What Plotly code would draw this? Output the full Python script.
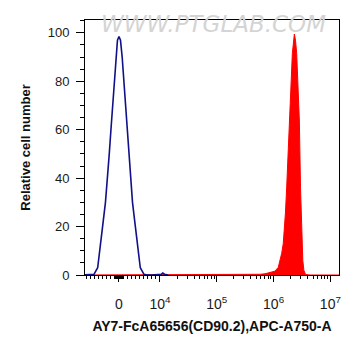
import numpy as np
import plotly.graph_objects as go

# ---- data (fluorescence intensity, relative cell number) ----
blue_x = [-9000, -7000, -6100, -5200, -4650, -4000, -3300, -2800, -2370, -1960,
          -1190, -780, -370, 0, 370, 780, 1190, 1960, 2370, 2800,
          3300, 4000, 4650, 5200, 6100, 7000, 8000, 9000, 10000, 10500,
          11200, 12000, 14000]
blue_y = [0, 0, 0.3, 3, 10, 20, 30, 39, 50, 60,
          80, 90, 97, 98.5, 97, 90, 80, 60, 50, 39,
          30, 20, 10, 3, 0.3, 0, 0, 0, 0, 0.3,
          0.8, 0.3, 0]

red_x = [-9000, 1e4, 1e5, 3.85e5, 5.77e5, 7.06e5, 9.27e5, 1.06e6, 1.21e6, 1.30e6,
         1.39e6, 1.48e6, 1.55e6, 1.62e6, 1.70e6, 1.79e6, 1.89e6, 2.01e6, 2.14e6, 2.32e6,
         2.43e6, 2.55e6, 2.69e6, 2.84e6, 2.98e6, 3.14e6, 3.27e6, 3.41e6, 3.65e6, 4.4e6, 1.5e7]
red_y = [0, 0, 0, 0.1, 0.3, 0.5, 1.2, 1.6, 3.2, 6,
         9, 13, 18, 26, 36, 50, 64, 78, 91.5, 99.5,
         97, 91.5, 78, 64, 36, 15, 6, 2, 0.2, 0, 0]

x_major_vals = [0, 1e4, 1e5, 1e6, 1e7]
x_major_text = ["0", "10<sup>4</sup>", "10<sup>5</sup>", "10<sup>6</sup>", "10<sup>7</sup>"]
y_major_vals = [0, 20, 40, 60, 80, 100]

x_title = "AY7-FcA65656(CD90.2),APC-A750-A"
y_title = "Relative cell number"
watermark = "WWW.PTGLAB.COM"

# ---- biexponential-like display transform (linear near 0, log above 1e4) ----
LIN_DECADES = 0.7215


def biex(v):
    v = np.asarray(v, dtype=float)
    return np.where(v < 1e4, v / 1e4 * LIN_DECADES,
                    np.log10(np.maximum(v, 1e4)) - 4 + LIN_DECADES)


minor_raw = [s * k for s in (-1, 1) for k in list(range(100, 1000, 100)) + list(range(1000, 10000, 1000))]
minor_raw += [k * 10 ** e for e in (4, 5, 6) for k in range(2, 10)]
minor_vals = sorted(biex(minor_raw).tolist())

font_family = "Liberation Sans, Arial, sans-serif"

fig = go.Figure()
fig.add_trace(go.Scatter(
    x=biex(red_x), y=red_y, mode="lines", fill="tozeroy",
    line=dict(color="#ff0000", width=1), fillcolor="#ff0000",
    hoverinfo="skip", showlegend=False))
fig.add_trace(go.Scatter(
    x=biex(blue_x), y=blue_y, mode="lines",
    line=dict(color="#10108a", width=1.6),
    hoverinfo="skip", showlegend=False))

# page body has an 8px default margin, so the figure is sized to fit inside
fig.update_layout(
    width=353, height=348,
    margin=dict(l=77, r=22, t=12, b=81),
    paper_bgcolor="white", plot_bgcolor="white",
    font=dict(family=font_family, color="#1a1a1a", size=13),
    showlegend=False,
)

fig.update_xaxes(
    range=[-0.598, 3.873], automargin=False, layer="above traces",
    tickmode="array", tickvals=biex(x_major_vals).tolist(), ticktext=x_major_text,
    ticks="outside", ticklen=6, tickwidth=1.2, tickcolor="black",
    minor=dict(tickmode="array", tickvals=minor_vals, ticks="outside",
               ticklen=3, tickwidth=1, tickcolor="black", showgrid=False),
    showline=True, linecolor="black", linewidth=1.2, mirror=True,
    showgrid=False, zeroline=False,
    tickfont=dict(size=14, color="#1a1a1a"),
    ticklabelstandoff=10,
    title=dict(text="<b>" + x_title + "</b>", font=dict(size=14, color="#111111"), standoff=10),
)

fig.update_yaxes(
    range=[0, 105.3], automargin=False, layer="above traces",
    tickmode="array", tickvals=y_major_vals,
    ticks="outside", ticklen=8, tickwidth=1.2, tickcolor="black",
    minor=dict(tickmode="linear", tick0=0, dtick=5, ticks="outside",
               ticklen=4, tickwidth=1, tickcolor="black", showgrid=False),
    showline=True, linecolor="black", linewidth=1, mirror=True,
    showgrid=False, zeroline=False,
    tickfont=dict(size=13, color="#1a1a1a"),
    ticklabelstandoff=4,
    title=dict(text="<b>" + y_title + "</b>", font=dict(size=13, color="#111111"), standoff=14),
)

fig.add_annotation(
    text=watermark, xref="paper", yref="paper", x=0.506, y=0.985,
    xanchor="center", yanchor="middle", showarrow=False,
    font=dict(family="DejaVu Sans, sans-serif", size=23, color="#d4d4d4", style="italic"),
)

fig.write_html("out.html")
